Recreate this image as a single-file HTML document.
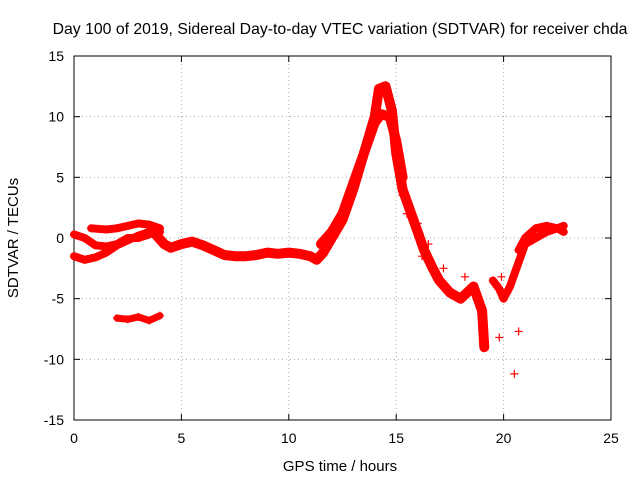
<!DOCTYPE html>
<html><head><meta charset="utf-8"><style>
body{margin:0;background:#fff;}
svg text{font-family:"Liberation Sans",sans-serif;font-size:14px;fill:#000;}
</style></head><body>
<svg id="chart" width="640" height="480" viewBox="0 0 640 480" xmlns="http://www.w3.org/2000/svg">
<rect width="640" height="480" fill="#fff"/>
<text x="340" y="34" text-anchor="middle" style="font-size:15.8px">Day 100 of 2019, Sidereal Day-to-day VTEC variation (SDTVAR) for receiver chda</text>
<g id="grid"></g><g id="axes"></g><g id="marks"></g>
<text x="340" y="471" text-anchor="middle" style="font-size:15px">GPS time / hours</text>
<text transform="translate(18,238) rotate(-90)" text-anchor="middle" style="font-size:15px">SDTVAR / TECUs</text>
</svg>
<script>
const xTicks=[0,5,10,15,20,25];
const yTicks=[-15,-10,-5,0,5,10,15];
const bandA=[[0,-1.5],[0.5,-1.8],[1,-1.6],[1.5,-1.2],[2,-0.6],[2.5,-0.2],[3,0.2],[3.5,0.5],[4,0.5]];
const bandB=[[0,0.3],[0.5,0],[1,-0.6],[1.5,-0.7],[2,-0.5],[2.5,0],[3,0],[3.5,0.3]];
const bandC=[[0.8,0.8],[1.5,0.7],[2,0.8],[2.5,1],[3,1.2],[3.5,1.1],[4,0.8]];
const mainTrace=[[3.8,0.3],[4.2,-0.5],[4.5,-0.8],[5,-0.5],[5.5,-0.3],[6,-0.6],[6.5,-1],[7,-1.4],[7.5,-1.5],[8,-1.5],[8.5,-1.4],[9,-1.2],[9.5,-1.3],[10,-1.2],[10.5,-1.3],[11,-1.5],[11.3,-1.8],[11.6,-1.2],[12,0],[12.5,1.5],[13,4],[13.5,7],[14,10],[14.2,12.3],[14.5,12.5],[14.8,10.5],[15,7],[15.3,4],[15.7,2],[16,0.5],[16.3,-1],[16.7,-2.5],[17,-3.5],[17.5,-4.5],[18,-5],[18.3,-4.5],[18.6,-4],[19,-6],[19.1,-9]];
const lowerBranch=[[11.5,-0.5],[12,0.5],[12.5,2],[13,4.5],[13.5,7],[14,9.5],[14.3,10.2],[14.7,10],[15,8],[15.3,5]];
const rightA=[[19.5,-3.5],[19.8,-4.2],[20,-5],[20.3,-4],[20.5,-3],[20.8,-1.5],[21,-0.5],[21.5,0],[22,0.5],[22.5,0.8],[22.8,1]];
const rightB=[[20.7,-1],[21,0],[21.5,0.8],[22,1],[22.5,0.8],[22.8,0.5]];
const isolated=[[2,-6.6],[2.5,-6.7],[3,-6.5],[3.5,-6.8],[4,-6.4]];
const scatter=[[19.8,-8.2],[20.5,-11.2],[20.7,-7.7],[19.9,-3.2],[15.3,3.5],[15.5,2],[16,1.2],[18.2,-3.2],[16.2,-1.5],[16.5,-0.5],[17.2,-2.5]];
const X0=74,X1=611,Y0=420,Y1=56;
const sx=v=>X0+(v-0)/25*(X1-X0);
const sy=v=>Y0-(v+15)/30*(Y0-Y1);
const NS="http://www.w3.org/2000/svg";
const grid=document.getElementById('grid'),axes=document.getElementById('axes'),marks=document.getElementById('marks');
function mk(tag,attrs,parent){const e=document.createElementNS(NS,tag);for(const k in attrs)e.setAttribute(k,attrs[k]);parent.appendChild(e);return e;}
xTicks.forEach(t=>{
 const x=sx(t);
 if(t>0&&t<25){const g=mk('line',{x1:x,x2:x,y1:Y1,y2:Y0,stroke:'#aaa','stroke-dasharray':'1,3'},grid);
 
 }
 const tl=mk('text',{x:x,y:Y0+23,'text-anchor':'middle'},axes);tl.textContent=t;
 
 
 mk('line',{x1:x,x2:x,y1:Y0,y2:Y0-6,stroke:'#000'},axes);
 mk('line',{x1:x,x2:x,y1:Y1,y2:Y1+6,stroke:'#000'},axes);
});
yTicks.forEach(t=>{
 const y=sy(t);
 if(t>-15&&t<15){const g=mk('line',{x1:X0,x2:X1,y1:y,y2:y,stroke:'#aaa','stroke-dasharray':'1,3'},grid);
 
 }
 const tl=mk('text',{x:X0-10,y:y+5,'text-anchor':'end'},axes);tl.textContent=t;
 
 
 mk('line',{x1:X0,x2:X0+6,y1:y,y2:y,stroke:'#000'},axes);
 mk('line',{x1:X1,x2:X1-6,y1:y,y2:y,stroke:'#000'},axes);
});
const fr=mk('rect',{x:X0,y:Y1,width:X1-X0,height:Y0-Y1,fill:'none',stroke:'#000'},axes);


function trace(data,name,w){
 const d=data.map((p,i)=>(i?'L':'M')+sx(p[0]).toFixed(1)+','+sy(p[1]).toFixed(1)).join(' ');
 const p=mk('path',{d:d,fill:'none',stroke:'#f00','stroke-width':w||8,'stroke-linejoin':'round','stroke-linecap':'round'},marks);
 
 
 data.forEach(pt=>plus(pt));
}
function plus(pt){
 const x=sx(pt[0]),y=sy(pt[1]);
 const m=mk('path',{d:`M${x-4},${y}H${x+4}M${x},${y-4}V${y+4}`,stroke:'#f00','stroke-width':1.2},marks);
 
 
}
trace(bandA,'trace-band-a');
trace(bandB,'trace-band-b');
trace(bandC,'trace-band-c');
trace(mainTrace,'trace-main',10);
trace(lowerBranch,'trace-lower-branch',10);
trace(rightA,'trace-right-a');
trace(rightB,'trace-right-b');
trace(isolated,'trace-isolated',7);
scatter.forEach(plus);
</script>
</body></html>
